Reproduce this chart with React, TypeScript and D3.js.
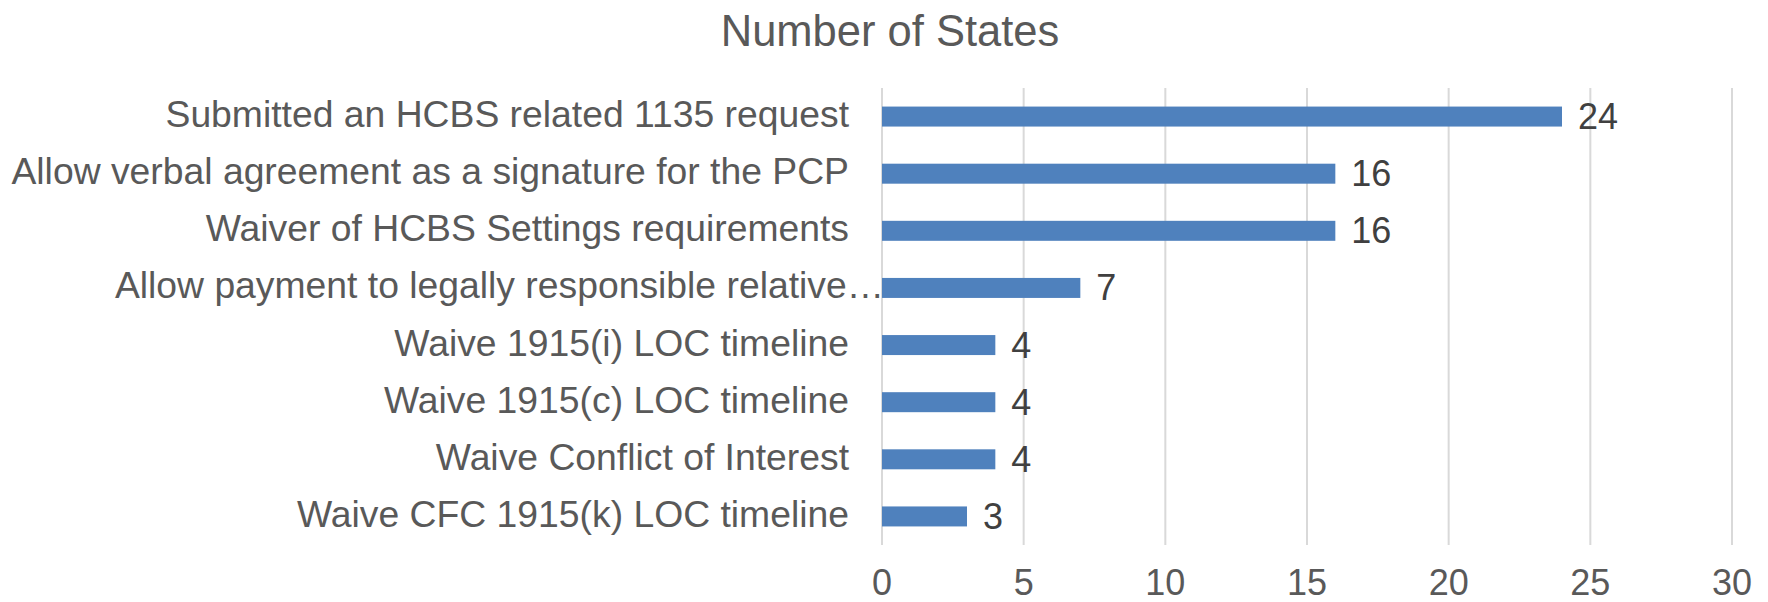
import React, { useEffect, useRef } from "react";
import * as d3 from "d3";

const categories = [
  "Submitted an HCBS related 1135 request",
  "Allow verbal agreement as a signature for the PCP",
  "Waiver of HCBS Settings requirements",
  "Allow payment to legally responsible relative…",
  "Waive 1915(i) LOC timeline",
  "Waive 1915(c) LOC timeline",
  "Waive Conflict of Interest",
  "Waive CFC 1915(k) LOC timeline",
];
const values = [24, 16, 16, 7, 4, 4, 4, 3];
const ticks = [0, 5, 10, 15, 20, 25, 30];
const title = "Number of States";

const W = 1768;
const H = 602;

export default function App() {
  const ref = useRef<SVGSVGElement>(null);

  useEffect(() => {
    const svg = d3.select(ref.current);
    svg.selectAll("*").remove();

    const margin = { top: 88, right: 36, bottom: 57, left: 882 };
    const font = "'Liberation Sans', Arial, sans-serif";

    const x = d3
      .scaleLinear()
      .domain([0, 30])
      .range([margin.left, W - margin.right]);

    const y = d3
      .scaleBand()
      .domain(categories)
      .range([margin.top, H - margin.bottom])
      .paddingInner(0.65)
      .paddingOuter(0.325);

    // title
    svg
      .append("text")
      .attr("x", 890)
      .attr("y", 46)
      .attr("text-anchor", "middle")
      .attr("font-family", font)
      .attr("font-size", 43.5)
      .attr("fill", "#595959")
      .text(title);

    // vertical gridlines
    svg
      .append("g")
      .selectAll("line")
      .data(ticks)
      .enter()
      .append("line")
      .attr("x1", (d) => x(d))
      .attr("x2", (d) => x(d))
      .attr("y1", margin.top)
      .attr("y2", H - margin.bottom)
      .attr("stroke", "#d9d9d9")
      .attr("stroke-width", 2);

    // tick labels
    svg
      .append("g")
      .selectAll("text")
      .data(ticks)
      .enter()
      .append("text")
      .attr("x", (d) => x(d))
      .attr("y", 595)
      .attr("text-anchor", "middle")
      .attr("font-family", font)
      .attr("font-size", 36)
      .attr("fill", "#595959")
      .text((d) => d);

    const data = categories.map((c, i) => ({ c, v: values[i] }));

    // bars
    svg
      .append("g")
      .selectAll("rect")
      .data(data)
      .enter()
      .append("rect")
      .attr("x", x(0))
      .attr("y", (d) => y(d.c)!)
      .attr("width", (d) => x(d.v) - x(0))
      .attr("height", y.bandwidth())
      .attr("fill", "#4f81bd");

    // category labels
    svg
      .append("g")
      .selectAll("text")
      .data(data)
      .enter()
      .append("text")
      .attr("x", (d) => (d.c.endsWith("…") ? x(0) + 2 : x(0) - 33))
      .attr("y", (d) => y(d.c)! + y.bandwidth() / 2 + 10.5)
      .attr("text-anchor", "end")
      .attr("font-family", font)
      .attr("font-size", 37.3)
      .attr("fill", "#595959")
      .text((d) => d.c);

    // value labels
    svg
      .append("g")
      .selectAll("text")
      .data(data)
      .enter()
      .append("text")
      .attr("x", (d) => x(d.v) + 16)
      .attr("y", (d) => y(d.c)! + y.bandwidth() / 2 + 12.5)
      .attr("font-family", font)
      .attr("font-size", 36)
      .attr("fill", "#404040")
      .text((d) => d.v);
  }, []);

  return (
    <svg
      ref={ref}
      width={W}
      height={H}
      style={{ position: "absolute", top: 0, left: 0, background: "#fff" }}
    />
  );
}
